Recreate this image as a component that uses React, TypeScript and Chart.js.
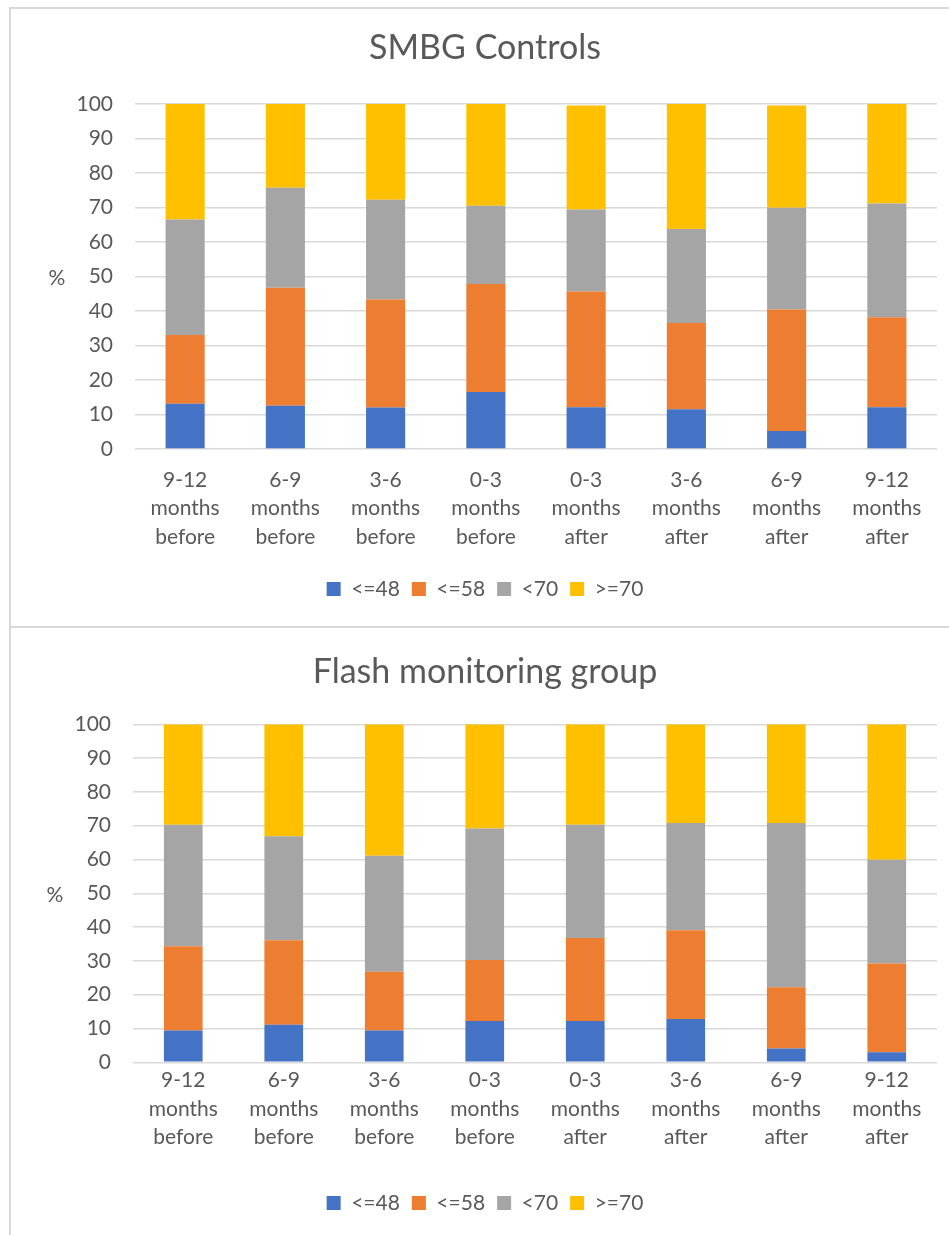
import React, { useEffect, useRef } from "react";
import { Chart, registerables } from "chart.js";

Chart.register(...registerables);

const categories: string[][] = [
  ["9-12", "months", "before"],
  ["6-9", "months", "before"],
  ["3-6", "months", "before"],
  ["0-3", "months", "before"],
  ["0-3", "months", "after"],
  ["3-6", "months", "after"],
  ["6-9", "months", "after"],
  ["9-12", "months", "after"],
];

const seriesLabels = ["<=48", "<=58", "<70", ">=70"];
const seriesColors = ["#4472C4", "#ED7D31", "#A5A5A5", "#FFC000"];

// SMBG Controls
const smbgLe48 = [13.1, 12.5, 12.0, 16.5, 12.1, 11.5, 5.2, 12.1];
const smbgLe58 = [19.9, 34.2, 31.3, 31.3, 33.5, 25.0, 35.2, 26.1];
const smbgLt70 = [33.5, 29.0, 28.9, 22.7, 23.8, 27.2, 29.5, 32.9];
const smbgGe70 = [33.5, 24.3, 27.8, 29.5, 30.1, 36.3, 29.6, 28.9];

// Flash monitoring group
const flashLe48 = [9.4, 11.1, 9.4, 12.2, 12.2, 12.8, 4.1, 3.0];
const flashLe58 = [24.9, 25.0, 17.4, 18.1, 24.6, 26.3, 18.1, 26.2];
const flashLt70 = [36.0, 30.8, 34.3, 38.9, 33.5, 31.7, 48.6, 30.7];
const flashGe70 = [29.7, 33.1, 38.9, 30.8, 29.7, 29.2, 29.2, 40.1];

const yTicksMin = 0;
const yTicksMax = 100;
const yTicksStep = 10;

const TEXT = "#595959";
const GRID = "#d9d9d9";
const FONT = "Lato, 'Open Sans', sans-serif";

interface Layout {
  titlePadTop: number;
  titlePadBottom: number;
  yWidth: number;
  xHeight: number;
  xTickPad: number;
  padBottom: number;
  barPct: number;
}

function percentPlugin() {
  return {
    id: "percentLabel",
    afterDraw(chart: any) {
      const { ctx, chartArea } = chart;
      ctx.save();
      ctx.fillStyle = TEXT;
      ctx.font = `21px ${FONT}`;
      ctx.textAlign = "center";
      ctx.textBaseline = "middle";
      ctx.fillText("%", chartArea.left - 78, (chartArea.top + chartArea.bottom) / 2 + 2);
      ctx.restore();
    },
  };
}

function makeConfig(title: string, series: number[][], L: Layout): any {
  return {
    type: "bar",
    data: {
      labels: categories,
      datasets: series.map((d, i) => ({
        label: seriesLabels[i],
        data: d,
        backgroundColor: seriesColors[i],
        borderWidth: 0,
        barPercentage: L.barPct,
        categoryPercentage: 1,
      })),
    },
    options: {
      animation: false,
      responsive: false,
      maintainAspectRatio: false,
      devicePixelRatio: 1,
      layout: { padding: { left: 21, right: 12, top: 0, bottom: L.padBottom } },
      plugins: {
        tooltip: { enabled: false },
        title: {
          display: true,
          text: title,
          color: TEXT,
          font: { family: FONT, size: 34, weight: "normal", lineHeight: 1.2 },
          padding: { top: L.titlePadTop, bottom: L.titlePadBottom },
        },
        legend: {
          display: true,
          position: "bottom",
          labels: {
            color: TEXT,
            font: { family: FONT, size: 21 },
            boxWidth: 14,
            boxHeight: 14,
            padding: 12,
          },
        },
      },
      scales: {
        x: {
          stacked: true,
          grid: { display: false, drawTicks: false },
          border: { display: false },
          ticks: {
            color: TEXT,
            font: { family: FONT, size: 21, lineHeight: 1.35 },
            padding: L.xTickPad,
            maxRotation: 0,
            autoSkip: false,
          },
          afterFit: (s: any) => {
            s.height = L.xHeight;
          },
        },
        y: {
          stacked: true,
          min: yTicksMin,
          max: yTicksMax,
          grid: { color: GRID, lineWidth: 1.5, drawTicks: false },
          border: { display: false },
          ticks: {
            stepSize: yTicksStep,
            color: TEXT,
            font: { family: FONT, size: 21 },
            padding: 22,
          },
          afterFit: (s: any) => {
            s.width = L.yWidth;
          },
        },
      },
    },
    plugins: [percentPlugin()],
  };
}

function ChartCanvas(props: {
  title: string;
  series: number[][];
  layout: Layout;
  left: number;
  top: number;
  width: number;
  height: number;
}) {
  const ref = useRef<HTMLCanvasElement | null>(null);
  useEffect(() => {
    if (!ref.current) return;
    const chart = new Chart(ref.current, makeConfig(props.title, props.series, props.layout));
    const fonts: any = (document as any).fonts;
    if (fonts && fonts.ready) {
      fonts.ready.then(() => {
        try {
          chart.update();
        } catch (e) {}
      });
    }
    return () => chart.destroy();
  }, []);
  return (
    <canvas
      ref={ref}
      width={props.width}
      height={props.height}
      style={{
        position: "absolute",
        left: props.left,
        top: props.top,
        width: props.width,
        height: props.height,
      }}
    />
  );
}

export default function App() {
  const layoutTop: Layout = {
    titlePadTop: 18,
    titlePadBottom: 35,
    yWidth: 102,
    xHeight: 117.5,
    xTickPad: 17,
    padBottom: 14.5,
    barPct: 0.39,
  };
  const layoutBottom: Layout = {
    titlePadTop: 23,
    titlePadBottom: 31.5,
    yWidth: 100,
    xHeight: 118.2,
    xTickPad: 4,
    padBottom: 11.5,
    barPct: 0.385,
  };
  return (
    <div
      style={{
        position: "absolute",
        left: 0,
        top: 0,
        width: 949,
        height: 1235,
        overflow: "hidden",
        background: "#ffffff",
      }}
    >
      <div
        style={{
          position: "absolute",
          left: 9,
          top: 7,
          width: 960,
          height: 617,
          borderLeft: `2px solid ${GRID}`,
          borderTop: `2px solid ${GRID}`,
          borderBottom: `2px solid ${GRID}`,
        }}
      />
      <div
        style={{
          position: "absolute",
          left: 9,
          top: 628,
          width: 960,
          height: 620,
          borderLeft: `2px solid ${GRID}`,
        }}
      />
      <ChartCanvas
        title="SMBG Controls"
        series={[smbgLe48, smbgLe58, smbgLt70, smbgGe70]}
        layout={layoutTop}
        left={12}
        top={10}
        width={937}
        height={614}
      />
      <ChartCanvas
        title="Flash monitoring group"
        series={[flashLe48, flashLe58, flashLt70, flashGe70]}
        layout={layoutBottom}
        left={12}
        top={629}
        width={937}
        height={606}
      />
    </div>
  );
}
